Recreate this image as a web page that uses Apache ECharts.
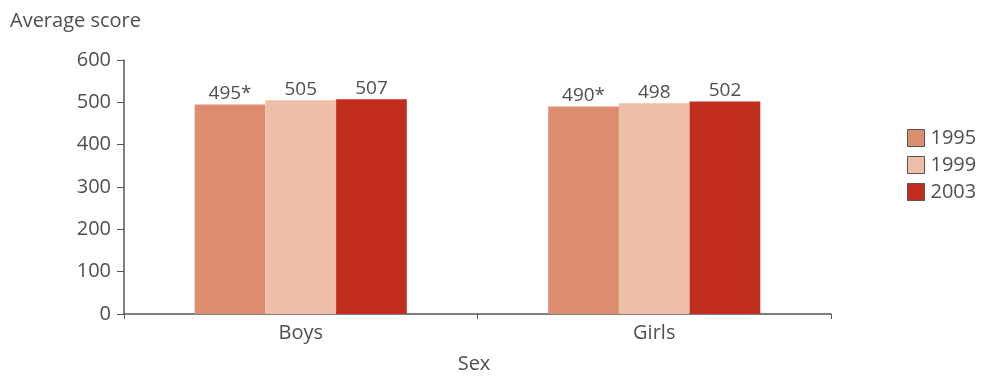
<!DOCTYPE html>
<html>
<head>
<meta charset="utf-8">
<script src="https://cdn.jsdelivr.net/npm/echarts@6/dist/echarts.min.js"></script>
<style>
  html, body { margin: 0; padding: 0; background: #fff; }
  #chart { width: 984px; height: 377px; }
</style>
</head>
<body>
<div id="chart"></div>
<script>
// Average score by sex and assessment year
const categories = ['Boys', 'Girls'];
const years = ['1995', '1999', '2003'];
const scores1995 = [495, 490];
const scores1999 = [505, 498];
const scores2003 = [507, 502];
// true where the score differs significantly from 2003 (marked with *)
const sig1995 = [true, true];
const sig1999 = [false, false];
const sig2003 = [false, false];
const yTicks = [0, 100, 200, 300, 400, 500, 600];

const colors = ['#DC8D6F', '#EEBFA8', '#C12E1E'];
const textColor = '#4f4f4f';
const font = 'Open Sans, Lato, sans-serif';

function makeSeries(name, values, flags, color) {
  return {
    name: name,
    type: 'bar',
    data: values,
    barGap: '0%',
    barCategoryGap: '40%',
    itemStyle: { color: color },
    label: {
      show: true,
      position: 'top',
      distance: 1,
      color: textColor,
      fontFamily: font,
      fontSize: 19,
      formatter: p => p.value + (flags[p.dataIndex] ? '*' : '')
    }
  };
}

const chart = echarts.init(document.getElementById('chart'));
chart.setOption({
  animation: false,
  title: {
    text: 'Average score',
    left: 5,
    top: 6,
    textStyle: { color: textColor, fontFamily: font, fontSize: 20, fontWeight: 'normal' }
  },
  legend: {
    orient: 'vertical',
    left: 902,
    top: 123,
    itemWidth: 17,
    itemHeight: 17,
    itemGap: 7,
    icon: 'rect',
    data: years,
    itemStyle: { borderColor: '#555', borderWidth: 1 },
    textStyle: { color: textColor, fontFamily: font, fontSize: 20, padding: [0, 0, 0, 1] }
  },
  grid: { left: 124, right: 153, top: 60, bottom: 63, containLabel: false, outerBoundsMode: 'none' },
  xAxis: {
    type: 'category',
    data: categories,
    name: 'Sex',
    nameLocation: 'middle',
    nameGap: 40,
    nameTextStyle: { color: textColor, fontFamily: font, fontSize: 20, padding: [0, 0, 0, -7] },
    axisLine: { lineStyle: { color: '#555', width: 1.5 } },
    axisTick: { show: true, length: 5, lineStyle: { color: '#555' } },
    axisLabel: { color: textColor, fontFamily: font, fontSize: 20, margin: 9 }
  },
  yAxis: {
    type: 'value',
    min: 0,
    max: 600,
    interval: 100,
    axisLine: { show: true, lineStyle: { color: '#555', width: 1.5 } },
    axisTick: { show: true, length: 7, lineStyle: { color: '#555' } },
    splitLine: { show: false },
    axisLabel: {
      color: textColor, fontFamily: font, fontSize: 20, margin: 13,
      formatter: v => yTicks.indexOf(v) >= 0 ? String(v) : ''
    }
  },
  series: [
    makeSeries(years[0], scores1995, sig1995, colors[0]),
    makeSeries(years[1], scores1999, sig1999, colors[1]),
    makeSeries(years[2], scores2003, sig2003, colors[2])
  ]
});
</script>
</body>
</html>
